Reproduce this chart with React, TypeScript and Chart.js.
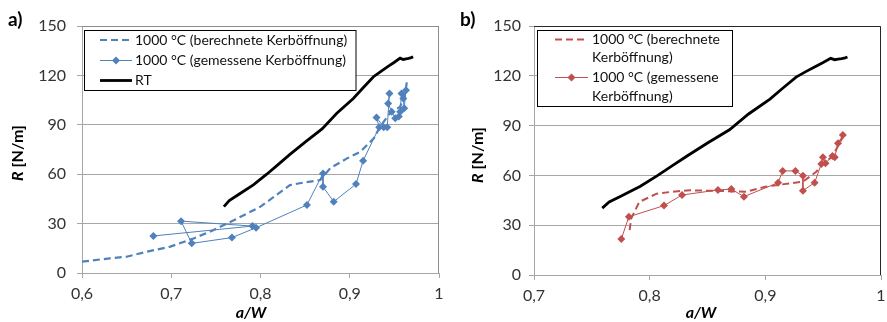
import React, { useEffect, useRef } from "react";
import { Chart, registerables } from "chart.js";

Chart.register(...registerables);

// ---------- data ----------
const rtX = [0.759, 0.765, 0.775, 0.792, 0.807, 0.82, 0.833, 0.85, 0.869, 0.8855, 0.904, 0.915, 0.9266, 0.935, 0.943, 0.95, 0.9565, 0.96, 0.963, 0.966, 0.969, 0.971];
const rtY = [40.3, 44, 47.5, 53.5, 60, 66, 72, 79.5, 87.5, 97, 106, 112.5, 119.2, 122.5, 125.5, 128, 130.5, 129.7, 130, 130.3, 130.8, 131.3];

const blueCalcX = [0.6, 0.631, 0.65, 0.6725, 0.699, 0.725, 0.747, 0.77, 0.8, 0.833, 0.844, 0.867, 0.878, 0.897, 0.912, 0.927, 0.934, 0.945, 0.9565, 0.962, 0.964];
const blueCalcY = [6.9, 8.9, 9.9, 12.9, 16, 21, 26, 32, 40.3, 53.4, 54.5, 56.5, 63.6, 69.6, 73.7, 81.8, 88.8, 97, 101, 109, 116];

const blueMeasX = [0.68, 0.791, 0.711, 0.723, 0.768, 0.795, 0.852, 0.87, 0.87, 0.882, 0.907, 0.915, 0.933, 0.93, 0.938, 0.942, 0.9445, 0.943, 0.947, 0.951, 0.955, 0.9565, 0.958, 0.96, 0.961, 0.963];
const blueMeasY = [22.5, 28.5, 31.5, 18, 21.5, 27.5, 41.3, 60.5, 52.4, 43.3, 54, 68.2, 88.5, 94.5, 88.5, 88.5, 109, 103, 98, 94, 95, 98, 109, 106, 100, 111];

const redCalcX = [0.7827, 0.784, 0.791, 0.806, 0.82, 0.835, 0.849, 0.8836, 0.9, 0.921, 0.9325, 0.944, 0.95, 0.958, 0.964, 0.967];
const redCalcY = [27, 34, 44, 49, 50.2, 51, 50.8, 50.2, 53.2, 55.2, 56.2, 62.2, 67.3, 71.3, 79.3, 83];

const redMeasX = [0.7755, 0.782, 0.8124, 0.828, 0.859, 0.8706, 0.8815, 0.911, 0.915, 0.926, 0.9325, 0.9325, 0.9426, 0.9484, 0.9498, 0.952, 0.958, 0.96, 0.9628, 0.967];
const redMeasY = [21.7, 35.1, 41.8, 48.2, 51.2, 51.8, 47.2, 55.6, 62.7, 62.7, 59.8, 50.8, 55.6, 66.9, 70.9, 67.3, 71.7, 71, 79.3, 84.3];

const legendA = [["1000 °C (berechnete Kerböffnung)"], ["1000 °C (gemessene Kerböffnung)"], ["RT"]];
const legendB = [["1000 °C (berechnete", "Kerböffnung)"], ["1000 °C (gemessene", "Kerböffnung)"]];

const yTicks = [0, 30, 60, 90, 120, 150];
const xTicksA = [0.6, 0.7, 0.8, 0.9, 1];
const xTicksB = [0.7, 0.8, 0.9, 1];

const yTitleMain = "R";
const yTitleRest = " [N/m]";
const xTitle = "a/W";

// ---------- styling ----------
const FONT = "Lato, 'Open Sans', sans-serif";
const BLUE = "#4f81bd";
const RED = "#c0504d";
const GRID = "#a6a6a6";

const pts = (xs: number[], ys: number[]) => xs.map((x, i) => ({ x, y: ys[i] }));

function makeOverlay(cfg: any) {
  return {
    id: "overlay" + cfg.panel.replace(/\W/g, ""),
    afterDatasetsDraw(chart: any) {
      const { ctx, chartArea: a } = chart;
      ctx.save();
      // top/right frame
      ctx.strokeStyle = cfg.frameColor;
      ctx.lineWidth = 1;
      ctx.setLineDash([]);
      const t = Math.round(a.top) + 0.5;
      const r = Math.round(a.right) - 0.5;
      ctx.beginPath();
      ctx.moveTo(a.left, t);
      ctx.lineTo(r, t);
      ctx.lineTo(r, a.bottom);
      ctx.stroke();

      // legend
      const [bx, by, bw, bh] = cfg.box;
      ctx.fillStyle = "#fff";
      ctx.fillRect(bx, by, bw, bh);
      ctx.strokeStyle = "#000";
      ctx.lineWidth = 1;
      ctx.strokeRect(bx, by, bw, bh);
      ctx.font = `14px ${FONT}`;
      ctx.textBaseline = "middle";
      ctx.textAlign = "left";
      cfg.items.forEach((it: any) => {
        const ds = chart.data.datasets[it.ds];
        const yy = it.rows[0];
        ctx.strokeStyle = ds.borderColor;
        ctx.lineWidth = ds.borderWidth;
        ctx.setLineDash(ds.borderDash || []);
        ctx.beginPath();
        ctx.moveTo(cfg.sample[0], yy);
        ctx.lineTo(cfg.sample[1], yy);
        ctx.stroke();
        ctx.setLineDash([]);
        if (ds.pointRadius > 0) {
          const cx = (cfg.sample[0] + cfg.sample[1]) / 2;
          const rr = ds.pointRadius;
          ctx.fillStyle = ds.pointBackgroundColor;
          ctx.beginPath();
          ctx.moveTo(cx, yy - rr);
          ctx.lineTo(cx + rr, yy);
          ctx.lineTo(cx, yy + rr);
          ctx.lineTo(cx - rr, yy);
          ctx.closePath();
          ctx.fill();
        }
        ctx.fillStyle = "#111";
        it.lines.forEach((ln: string, j: number) => ctx.fillText(ln, cfg.textX, it.rows[j]));
      });
      ctx.restore();
    },
    afterDraw(chart: any) {
      const { ctx } = chart;
      ctx.save();
      ctx.fillStyle = "#000";
      ctx.textBaseline = "middle";
      // panel label
      ctx.textAlign = "left";
      ctx.font = `bold 19px ${FONT}`;
      ctx.fillText(cfg.panel, cfg.panelPos[0], cfg.panelPos[1]);
      // x title
      ctx.textAlign = "center";
      ctx.font = `italic bold 16px ${FONT}`;
      ctx.fillText(xTitle, cfg.xTitlePos[0], cfg.xTitlePos[1]);
      // y title (rotated, mixed style)
      ctx.translate(cfg.yTitlePos[0], cfg.yTitlePos[1]);
      ctx.rotate(-Math.PI / 2);
      ctx.textAlign = "left";
      const f1 = `italic bold 16px ${FONT}`;
      const f2 = `bold 16px ${FONT}`;
      ctx.font = f1;
      const w1 = ctx.measureText(yTitleMain).width;
      ctx.font = f2;
      const w2 = ctx.measureText(yTitleRest).width;
      const x0 = -(w1 + w2) / 2;
      ctx.font = f1;
      ctx.fillText(yTitleMain, x0, 0);
      ctx.font = f2;
      ctx.fillText(yTitleRest, x0 + w1, 0);
      ctx.restore();
    },
  };
}

function buildConfig(p: any) {
  return {
    type: "line",
    data: { datasets: p.datasets },
    options: {
      animation: false,
      responsive: false,
      devicePixelRatio: 1,
      layout: { padding: p.padding },
      plugins: { legend: { display: false }, tooltip: { enabled: false } },
      elements: { line: { tension: 0 } },
      scales: {
        x: {
          type: "linear",
          min: p.xTicks[0],
          max: p.xTicks[p.xTicks.length - 1],
          afterBuildTicks: (s: any) => {
            s.ticks = p.xTicks.map((v: number) => ({ value: v }));
          },
          afterFit: (s: any) => {
            s.height = p.xHeight;
            s.paddingLeft = 0;
            s.paddingRight = 0;
          },
          ticks: {
            color: "#333",
            font: { family: FONT, size: 16 },
            padding: 6,
            maxRotation: 0,
            callback: (v: number) => String(Math.round(v * 10) / 10).replace(".", ","),
          },
          grid: { drawOnChartArea: false, drawTicks: true, tickLength: 5, color: GRID },
          border: { color: GRID },
        },
        y: {
          type: "linear",
          min: 0,
          max: 150,
          afterBuildTicks: (s: any) => {
            s.ticks = yTicks.map((v) => ({ value: v }));
          },
          afterFit: (s: any) => {
            s.width = p.yWidth;
            s.paddingTop = 0;
            s.paddingBottom = 0;
          },
          ticks: { color: "#333", font: { family: FONT, size: 16 }, padding: p.yPad },
          grid: { color: GRID, tickLength: 5 },
          border: { color: GRID },
        },
      },
    },
    plugins: [makeOverlay(p.overlay)],
  };
}

function lineDs(label: string, data: any[], color: string, width: number, dash: number[], marker: boolean) {
  return {
    label,
    data,
    borderColor: color,
    backgroundColor: color,
    borderWidth: width,
    borderDash: dash,
    pointRadius: marker ? 4 : 0,
    pointStyle: "rectRot",
    pointBackgroundColor: color,
    pointBorderColor: color,
    pointBorderWidth: 0,
    fill: false,
  };
}

function ChartCanvas({ config, width, height, left }: any) {
  const ref = useRef<HTMLCanvasElement>(null);
  useEffect(() => {
    const c = new Chart(ref.current as any, config);
    return () => c.destroy();
  }, []);
  return (
    <canvas
      ref={ref}
      width={width}
      height={height}
      style={{ position: "absolute", left, top: 0, width, height }}
    />
  );
}

export default function App() {
  const cfgA = buildConfig({
    datasets: [
      lineDs(legendA[0].join(" "), pts(blueCalcX, blueCalcY), BLUE, 2.2, [7, 4], false),
      lineDs(legendA[1].join(" "), pts(blueMeasX, blueMeasY), BLUE, 1, [], true),
      lineDs(legendA[2].join(" "), pts(rtX, rtY), "#000", 2.8, [], false),
    ],
    padding: { left: 0, top: 26, right: 11, bottom: 0 },
    xTicks: xTicksA,
    xHeight: 49,
    yWidth: 82,
    yPad: 11,
    overlay: {
      panel: "a)",
      panelPos: [8, 20],
      xTitlePos: [251, 313],
      yTitlePos: [18, 153],
      frameColor: "#8c8c8c",
      box: [84.5, 30.5, 271.5, 60],
      sample: [100, 132],
      textX: 135,
      items: [
        { ds: 0, lines: legendA[0], rows: [40] },
        { ds: 1, lines: legendA[1], rows: [60.5] },
        { ds: 2, lines: legendA[2], rows: [80.5] },
      ],
    },
  });

  const cfgB = buildConfig({
    datasets: [
      lineDs(legendB[0].join(" "), pts(redCalcX, redCalcY), RED, 2, [7, 4], false),
      lineDs(legendB[1].join(" "), pts(redMeasX, redMeasY), RED, 1, [], true),
      lineDs("RT", pts(rtX, rtY), "#000", 2.8, [], false),
    ],
    padding: { left: 0, top: 26, right: 6, bottom: 0 },
    xTicks: xTicksB,
    xHeight: 47,
    yWidth: 94,
    yPad: 8,
    overlay: {
      panel: "b)",
      panelPos: [20, 20],
      xTitlePos: [261, 313],
      yTitlePos: [37.5, 155],
      frameColor: "#262626",
      box: [97.5, 30.5, 195, 76],
      sample: [115, 148],
      textX: 152,
      items: [
        { ds: 0, lines: legendB[0], rows: [39.5, 57.5] },
        { ds: 1, lines: legendB[1], rows: [77.5, 96] },
      ],
    },
  });

  return (
    <div style={{ position: "absolute", left: 0, top: 0, width: 887, height: 322, background: "#fff" }}>
      <ChartCanvas config={cfgA} width={450} height={322} left={0} />
      <ChartCanvas config={cfgB} width={447} height={322} left={440} />
    </div>
  );
}
